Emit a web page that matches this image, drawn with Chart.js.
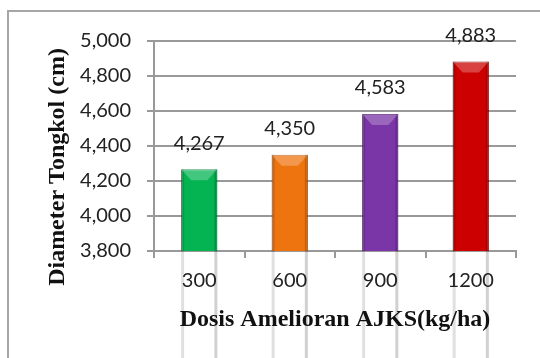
<!DOCTYPE html>
<html>
<head>
<meta charset="utf-8">
<script src="https://cdn.jsdelivr.net/npm/chart.js@4"></script>
<style>
html, body { margin: 0; padding: 0; background: #fff; }
#wrap { position: relative; width: 540px; height: 358px; overflow: hidden; }
#frame { position: absolute; left: 7px; top: 10px; width: 600px; height: 400px; border: 2px solid #a6a6a6; }
canvas { position: absolute; left: 0; top: 0; }
</style>
</head>
<body>
<div id="wrap">
  <div id="frame"></div>
  <canvas id="myChart" width="540" height="358"></canvas>
</div>
<script>
// data
var dosis = ['300', '600', '900', '1200'];
var diameter = [4.267, 4.350, 4.583, 4.883];
var warna = ['#04b352', '#ee7410', '#7a35a6', '#cc0000'];
var tepi = ['#00873d', '#b5560a', '#57207a', '#8f0000'];
var sumbuMin = 3.8;
var sumbuMax = 5.0;
var sumbuStep = 0.2;
var judulX = 'Dosis Amelioran AJKS(kg/ha)';
var judulY = 'Diameter Tongkol (cm)';

// angka pakai koma desimal
function fmt(v) {
    return v.toFixed(3).replace('.', ',');
}

// efek bevel di atas batang
var bevel = {
    id: 'bevel',
    afterDatasetsDraw: function(chart) {
        var ctx = chart.ctx;
        var meta = chart.getDatasetMeta(0);
        ctx.save();
        meta.data.forEach(function(bar) {
            var l = bar.x - bar.width / 2;
            var r = bar.x + bar.width / 2;
            var t = bar.y;
            var b = bar.base;
            var d = 10;
            // sisi kiri dan kanan lebih gelap
            ctx.fillStyle = 'rgba(0,0,0,0.12)';
            ctx.fillRect(l, t, 3, b - t);
            ctx.fillStyle = 'rgba(0,0,0,0.18)';
            ctx.fillRect(r - 3, t, 3, b - t);
            // bagian atas terang
            ctx.fillStyle = 'rgba(255,255,255,0.25)';
            ctx.beginPath();
            ctx.moveTo(l, t);
            ctx.lineTo(r, t);
            ctx.lineTo(r - d, t + 11);
            ctx.lineTo(l + d, t + 11);
            ctx.closePath();
            ctx.fill();
            // bagian bawah agak gelap
            ctx.fillStyle = 'rgba(0,0,0,0.1)';
            ctx.beginPath();
            ctx.moveTo(l, b);
            ctx.lineTo(r, b);
            ctx.lineTo(r - d, b - 9);
            ctx.lineTo(l + d, b - 9);
            ctx.closePath();
            ctx.fill();
        });
        ctx.restore();
    }
};

// label nilai di atas batang + judul sumbu
var labelNilai = {
    id: 'labelNilai',
    afterDraw: function(chart) {
        var ctx = chart.ctx;
        var area = chart.chartArea;
        var meta = chart.getDatasetMeta(0);
        ctx.save();
        ctx.font = '20px Lato';
        ctx.fillStyle = '#222';
        ctx.textAlign = 'center';
        ctx.textBaseline = 'middle';
        meta.data.forEach(function(bar, i) {
            ctx.fillText(fmt(diameter[i]), bar.x, bar.y - 26);
        });

        ctx.font = 'bold 24px "Liberation Serif"';
        ctx.fillStyle = '#111';
        ctx.fillText(judulX, (area.left + area.right) / 2, area.bottom + 69);

        ctx.translate(58, (area.top + area.bottom) / 2 + 21);
        ctx.rotate(-Math.PI / 2);
        ctx.fillText(judulY, 0, 0);
        ctx.restore();
    }
};

var ctx = document.getElementById('myChart').getContext('2d');
var myChart = new Chart(ctx, {
    type: 'bar',
    data: {
        labels: dosis,
        datasets: [{
            data: diameter,
            backgroundColor: warna,
            borderColor: tepi,
            borderWidth: 1,
            barPercentage: 0.5,
            categoryPercentage: 0.8
        }]
    },
    options: {
        responsive: false,
        animation: false,
        layout: {
            padding: { top: 41, right: 24, left: 0, bottom: 0 }
        },
        plugins: {
            legend: { display: false },
            tooltip: { enabled: false }
        },
        scales: {
            x: {
                afterFit: function(scale) { scale.height = 107; },
                grid: {
                    drawOnChartArea: false,
                    drawTicks: true,
                    tickLength: 7,
                    color: '#999',
                    lineWidth: 2
                },
                border: { color: '#999', width: 2 },
                ticks: {
                    padding: 11,
                    color: '#222',
                    font: { family: 'Lato', size: 20 }
                }
            },
            y: {
                min: sumbuMin,
                max: sumbuMax,
                afterFit: function(scale) { scale.width = 154; },
                grid: {
                    color: '#999',
                    lineWidth: 2,
                    tickLength: 7
                },
                border: { color: '#999', width: 2 },
                ticks: {
                    stepSize: sumbuStep,
                    padding: 16,
                    color: '#222',
                    font: { family: 'Lato', size: 20 },
                    callback: function(v) { return fmt(v); }
                }
            }
        }
    },
    plugins: [bevel, labelNilai]
});
</script>
</body>
</html>
